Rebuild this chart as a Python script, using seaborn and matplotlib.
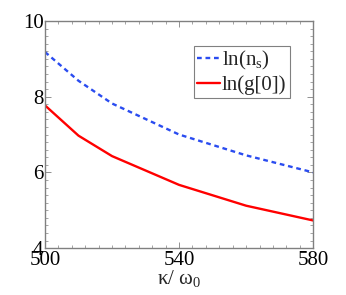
import numpy as np
import pandas as pd
import matplotlib
matplotlib.use('Agg')
import matplotlib.pyplot as plt
import seaborn as sns
from matplotlib.ticker import MultipleLocator, FixedLocator

# data
kappa = [500, 510, 520, 540, 560, 580]
ln_ns = [9.18, 8.42, 7.82, 7.0, 6.45, 6.0]
ln_g0 = [7.77, 6.97, 6.43, 5.67, 5.12, 4.73]
x_ticks = [500, 540, 580]

sns.set_style('ticks')
plt.rcParams['font.family'] = ['Liberation Serif', 'DejaVu Serif']
plt.rcParams['mathtext.fontset'] = 'custom'
plt.rcParams['mathtext.rm'] = 'Liberation Serif'
plt.rcParams['mathtext.default'] = 'regular'
plt.rcParams['axes.edgecolor'] = '#808080'
plt.rcParams['xtick.color'] = '#808080'
plt.rcParams['ytick.color'] = '#808080'
plt.rcParams['xtick.labelcolor'] = 'black'
plt.rcParams['ytick.labelcolor'] = 'black'

df = pd.DataFrame({'kappa': kappa, 'ns': ln_ns, 'g0': ln_g0})

fig = plt.figure(figsize=(3.46, 2.95), dpi=100)
ax = fig.add_axes([0.130, 0.159, 0.775, 0.770])

sns.lineplot(data=df, x='kappa', y='ns', ax=ax, color='#2a4cf0', lw=1.7,
             linestyle=(0, (2, 1.6)), label='ln(n$_{s}$)')
sns.lineplot(data=df, x='kappa', y='g0', ax=ax, color='#ff0000', lw=1.7,
             label='ln(g[0])')

ax.set_xlim(500, 580)
ax.set_ylim(4, 10)
ax.xaxis.set_major_locator(FixedLocator(x_ticks))
ax.xaxis.set_minor_locator(MultipleLocator(4))
ax.yaxis.set_major_locator(MultipleLocator(2))
ax.yaxis.set_minor_locator(MultipleLocator(0.2))
ax.tick_params(which='both', direction='in', top=True, right=True, labelsize=15)
ax.tick_params(axis='x', pad=2)
ax.tick_params(axis='y', pad=1)
ax.tick_params(which='major', length=4, width=0.6)
ax.tick_params(which='minor', length=2, width=0.5)
for s in ax.spines.values():
    s.set_linewidth(1.0)

ax.set_xlabel('κ/ ω$_0$', fontsize=15, labelpad=-1)
ax.set_ylabel('')

leg = ax.legend(loc='upper left', bbox_to_anchor=(0.555, 0.89), fontsize=15,
                handlelength=1.1, handletextpad=0.1, borderpad=0.15,
                labelspacing=0.15, borderaxespad=0, fancybox=False, framealpha=1)
leg.get_frame().set_edgecolor('#808080')
leg.get_frame().set_linewidth(0.8)

fig.savefig('out.png', dpi=100)
